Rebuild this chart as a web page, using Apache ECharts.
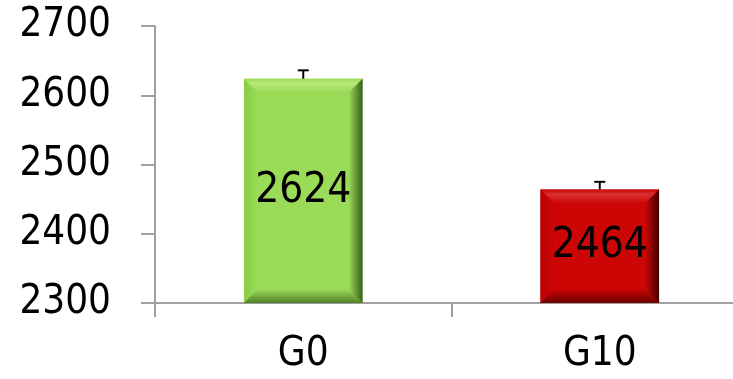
<!DOCTYPE html>
<html>
<head>
<meta charset="utf-8">
<script src="https://cdn.jsdelivr.net/npm/echarts@6/dist/echarts.min.js"></script>
<style>
html,body{margin:0;padding:0;background:#fff;}
#chart{width:733px;height:379px;}
</style>
</head>
<body>
<div id="chart"></div>
<script>
var categories = ['G0', 'G10'];
var values = [2624, 2464];
var errors = [12, 11];
var yTicks = [2300, 2400, 2500, 2600, 2700];

var palettes = [
  {main: '#9ADB57', top: '#B6E87B', left: '#8ACB47', right: '#3A5E1E', bottom: '#52802A'},
  {main: '#CC0505', top: '#D93030', left: '#BA0303', right: '#3E0000', bottom: '#6A0000'}
];
var FONT = '"DejaVu Sans Condensed", "DejaVu Sans", sans-serif';

var chart = echarts.init(document.getElementById('chart'), null, {renderer: 'canvas'});
var base = yTicks[0];

function renderBar(params, api) {
  var i = api.value(0);
  var v = api.value(1);
  var top = api.coord([i, v]);
  var bot = api.coord([i, base]);
  var band = api.size([1, 0])[0];
  var w = band * 0.4;
  var x0 = top[0] - w / 2, x1 = top[0] + w / 2;
  var y0 = top[1], y1 = bot[1];
  var b = 14;
  var p = palettes[i];
  var G = echarts.graphic.LinearGradient;
  return {
    type: 'group',
    children: [
      {type: 'rect', shape: {x: x0, y: y0, width: w, height: y1 - y0}, style: {fill: p.main}},
      {type: 'polygon', shape: {points: [[x0, y0], [x1, y0], [x1 - b, y0 + b], [x0 + b, y0 + b]]},
        style: {fill: new G(0, 0, 0, 1, [{offset: 0, color: p.main}, {offset: 0.35, color: p.top}, {offset: 1, color: p.main}])}},
      {type: 'polygon', shape: {points: [[x0, y0], [x0 + b, y0 + b], [x0 + b, y1 - b], [x0, y1]]},
        style: {fill: new G(0, 0, 1, 0, [{offset: 0, color: p.left}, {offset: 1, color: p.main}])}},
      {type: 'polygon', shape: {points: [[x1, y0], [x1, y1], [x1 - b, y1 - b], [x1 - b, y0 + b]]},
        style: {fill: new G(0, 0, 1, 0, [{offset: 0, color: p.main}, {offset: 1, color: p.right}])}},
      {type: 'polygon', shape: {points: [[x0, y1], [x1, y1], [x1 - b, y1 - b], [x0 + b, y1 - b]]},
        style: {fill: new G(0, 0, 0, 1, [{offset: 0, color: p.main}, {offset: 1, color: p.bottom}])}},
      {type: 'text', x: top[0], y: (y0 + y1) / 2,
        style: {text: String(v), fill: '#000', font: '42px ' + FONT, align: 'center', verticalAlign: 'middle'}}
    ]
  };
}

function renderErr(params, api) {
  var i = api.value(0);
  var v = api.value(1);
  var e = api.value(2);
  var a = api.coord([i, v]);
  var t = api.coord([i, v + e]);
  var st = {stroke: '#000', lineWidth: 2};
  return {
    type: 'group',
    children: [
      {type: 'line', shape: {x1: a[0], y1: a[1], x2: t[0], y2: t[1]}, style: st},
      {type: 'line', shape: {x1: t[0] - 5.5, y1: t[1], x2: t[0] + 5.5, y2: t[1]}, style: st}
    ]
  };
}

var barData = categories.map(function (c, i) { return [i, values[i]]; });
var errData = categories.map(function (c, i) { return [i, values[i], errors[i]]; });

chart.setOption({
  animation: false,
  backgroundColor: '#ffffff',
  grid: {left: 155, width: 593, top: 26, height: 277, containLabel: false, outerBoundsMode: 'none'},
  xAxis: {
    type: 'category',
    data: categories,
    boundaryGap: true,
    axisLine: {lineStyle: {color: '#A0A0A0', width: 2}},
    axisTick: {show: true, length: 14, alignWithLabel: false, lineStyle: {color: '#A0A0A0', width: 2}},
    axisLabel: {color: '#000', fontSize: 40, fontFamily: FONT, margin: 32}
  },
  yAxis: {
    type: 'value',
    min: yTicks[0],
    max: yTicks[yTicks.length - 1],
    interval: 100,
    splitLine: {show: false},
    axisLine: {show: true, lineStyle: {color: '#A0A0A0', width: 2}},
    axisTick: {show: true, length: 14, lineStyle: {color: '#A0A0A0', width: 2}},
    axisLabel: {color: '#000', fontSize: 40, fontFamily: FONT, margin: 44,
      formatter: function (v) { return String(v); }}
  },
  series: [
    {type: 'custom', renderItem: renderBar, data: barData, encode: {x: 0, y: 1}, z: 2, clip: false},
    {type: 'custom', renderItem: renderErr, data: errData, encode: {x: 0, y: 1}, z: 3, clip: false}
  ]
});
</script>
</body>
</html>
